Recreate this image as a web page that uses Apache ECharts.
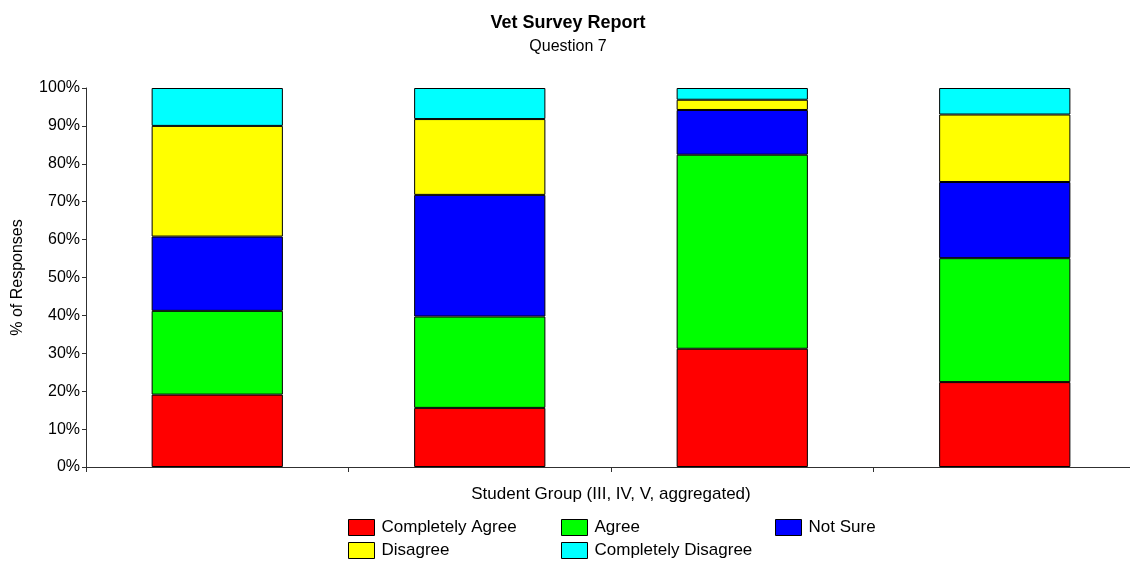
<!DOCTYPE html>
<html>
<head>
<meta charset="utf-8">
<script src="https://cdn.jsdelivr.net/npm/echarts@6/dist/echarts.min.js"></script>
<style>html,body{margin:0;padding:0;background:#fff;overflow:hidden;}#c{width:1136px;height:563px;}</style>
</head>
<body>
<div id="c"></div>
<script>
const categories = ['Group 1', 'Group 2', 'Group 3', 'Group 4'];
const seriesNames = ['Completely Agree', 'Agree', 'Not Sure', 'Disagree', 'Completely Disagree'];
const completelyAgree = [19.1, 15.6, 31.2, 22.4];
const agree = [22.1, 24.1, 51.2, 32.7];
const notSure = [19.6, 32.1, 11.8, 20.1];
const disagree = [29.2, 20.0, 2.7, 17.8];
const completelyDisagree = [10.0, 8.2, 3.1, 7.0];
const colors = ['#FF0000', '#00FF00', '#0000FF', '#FFFF00', '#00FFFF'];
const yTicks = [0, 10, 20, 30, 40, 50, 60, 70, 80, 90, 100];

const values = [completelyAgree, agree, notSure, disagree, completelyDisagree];
const font = 'Arial, "Liberation Sans", sans-serif';

const legendPos = [
  {left: 348, top: 519}, {left: 561, top: 519}, {left: 775, top: 519},
  {left: 348, top: 542}, {left: 561, top: 542}
];

const chart = echarts.init(document.getElementById('c'), null, {renderer: 'canvas'});
chart.setOption({
  animation: false,
  backgroundColor: '#ffffff',
  textStyle: {fontFamily: font},
  title: {
    text: 'Vet Survey Report',
    subtext: 'Question 7',
    left: 'center',
    top: 9,
    itemGap: 7,
    textStyle: {fontFamily: font, fontSize: 18, fontWeight: 'bold', color: '#000'},
    subtextStyle: {fontFamily: font, fontSize: 16, color: '#000'}
  },
  legend: seriesNames.map((n, i) => ({
    data: [n],
    left: legendPos[i].left,
    top: legendPos[i].top,
    icon: 'rect',
    itemWidth: 26,
    itemHeight: 16,
    itemGap: 0,
    padding: 0,
    selectedMode: false,
    textStyle: {fontFamily: font, fontSize: 17, color: '#000', padding: [0, 0, 0, 2]},
    itemStyle: {borderColor: '#000', borderWidth: 1}
  })),
  grid: {left: 86, top: 88, right: 0, bottom: 96, containLabel: false},
  xAxis: {
    type: 'category',
    data: categories,
    name: 'Student Group (III, IV, V, aggregated)',
    nameLocation: 'middle',
    nameGap: 19,
    nameTextStyle: {fontFamily: font, fontSize: 17, color: '#000'},
    axisLine: {lineStyle: {color: '#303030', width: 1}},
    axisTick: {show: true, length: 5, lineStyle: {color: '#303030'}},
    axisLabel: {show: false},
    splitLine: {show: false}
  },
  yAxis: {
    type: 'value',
    min: yTicks[0],
    max: yTicks[yTicks.length - 1],
    interval: 10,
    name: '% of Responses',
    nameLocation: 'middle',
    nameRotate: 90,
    nameGap: 60,
    nameTextStyle: {fontFamily: font, fontSize: 16, color: '#000'},
    axisLine: {show: true, lineStyle: {color: '#303030', width: 1}},
    axisTick: {show: true, length: 4, lineStyle: {color: '#303030'}},
    axisLabel: {formatter: '{value}%', fontFamily: font, fontSize: 16, color: '#000', margin: 6},
    splitLine: {show: false}
  },
  series: seriesNames.map((n, i) => ({
    name: n,
    type: 'bar',
    stack: 'total',
    data: values[i],
    barWidth: '50%',
    itemStyle: {color: colors[i], borderColor: '#000', borderWidth: 1}
  }))
});
</script>
</body>
</html>
